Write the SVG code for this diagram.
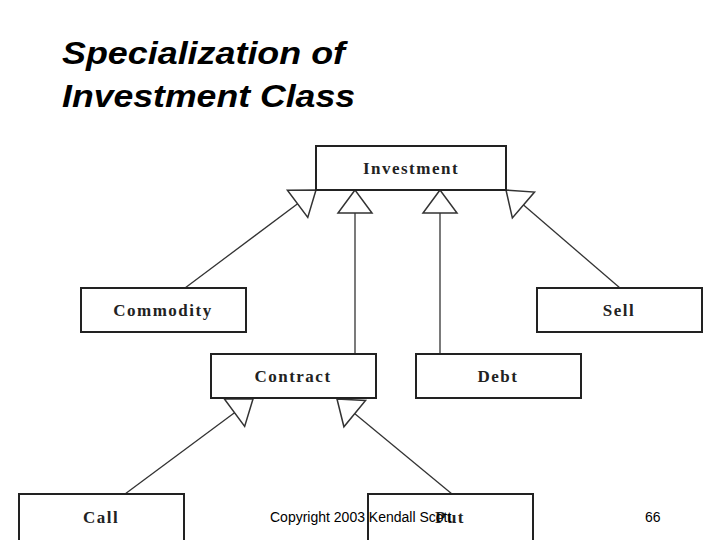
<svg xmlns="http://www.w3.org/2000/svg" width="720" height="540" viewBox="0 0 720 540">
<style>
.box{fill:#fff;stroke:#222;stroke-width:2}
.lbl{font-family:"Liberation Serif",serif;font-weight:bold;font-size:17px;letter-spacing:1.5px;fill:#222;text-anchor:middle}
.ln{stroke:#333;stroke-width:1.3;fill:none;marker-end:url(#tri)}
.title{font-family:"Liberation Sans",sans-serif;font-weight:bold;font-style:italic;font-size:32px;fill:#000}
.foot{font-family:"Liberation Sans",sans-serif;font-size:14px;fill:#000}
</style>
<defs>
<marker id="tri" markerUnits="userSpaceOnUse" viewBox="-25 -19 27 38" markerWidth="27" markerHeight="38" refX="0" refY="0" orient="auto">
<path d="M0,0 L-23,-17 L-23,17 Z" fill="#fff" stroke="#333" stroke-width="1.5"/>
</marker>
</defs>
<rect width="720" height="540" fill="#fff"/>
<text class="title" x="62" y="64" textLength="283" lengthAdjust="spacingAndGlyphs">Specialization of</text>
<text class="title" x="62" y="107" textLength="293" lengthAdjust="spacingAndGlyphs">Investment Class</text>
<g id="connectors">
<line class="ln" x1="185" y1="288" x2="316" y2="190"/>
<line class="ln" x1="355" y1="353" x2="355" y2="190"/>
<line class="ln" x1="440" y1="353" x2="440" y2="190"/>
<line class="ln" x1="620" y1="288" x2="506" y2="190"/>
<line class="ln" x1="125" y1="494" x2="253" y2="399"/>
<line class="ln" x1="452" y1="494" x2="337" y2="399"/>
</g>
<g id="investment"><rect class="box" x="316" y="146" width="190" height="44"/><text class="lbl" x="411" y="174">Investment</text></g>
<g id="commodity"><rect class="box" x="81" y="288" width="165" height="44"/><text class="lbl" x="163" y="316">Commodity</text></g>
<g id="sell"><rect class="box" x="537" y="288" width="165" height="44"/><text class="lbl" x="619" y="316">Sell</text></g>
<g id="contract"><rect class="box" x="211" y="354" width="165" height="44"/><text class="lbl" x="293" y="382">Contract</text></g>
<g id="debt"><rect class="box" x="416" y="354" width="165" height="44"/><text class="lbl" x="498" y="382">Debt</text></g>
<g id="call"><rect class="box" x="19" y="494" width="165" height="50"/><text class="lbl" x="101" y="523">Call</text></g>
<g id="put"><rect class="box" x="368" y="494" width="165" height="50"/><text class="lbl" x="450" y="523">Put</text></g>
<text class="foot" x="270" y="522">Copyright 2003 Kendall Scott</text>
<text class="foot" x="645" y="522">66</text>
</svg>
